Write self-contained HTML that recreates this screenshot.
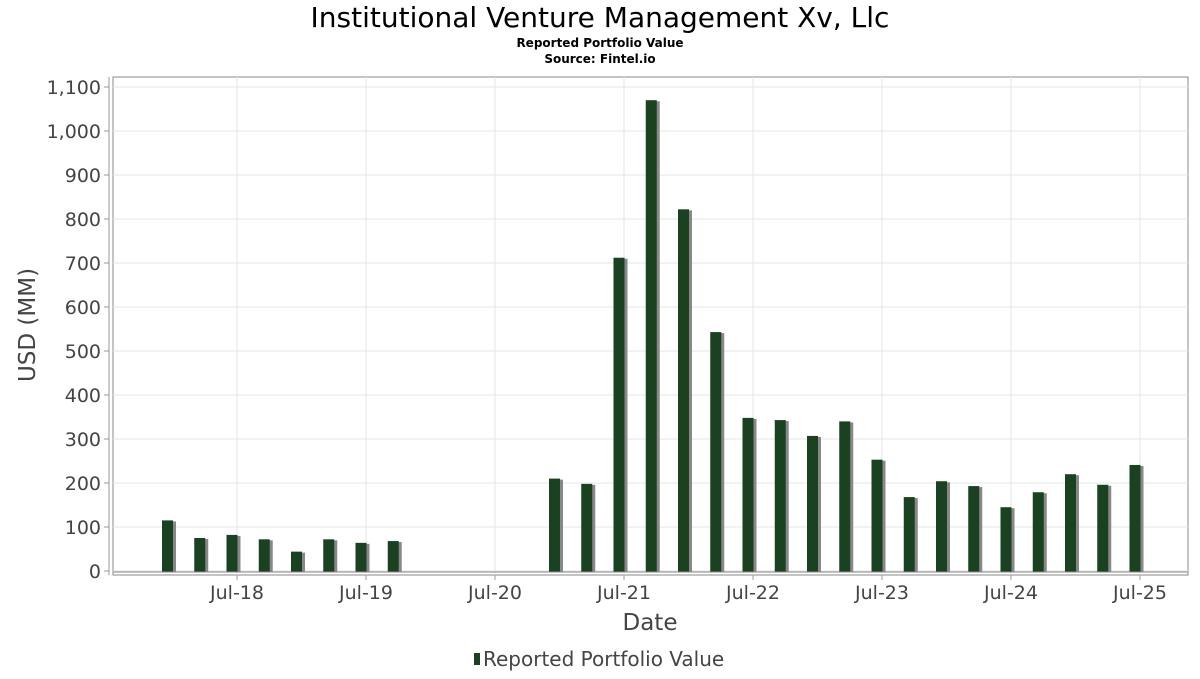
<!DOCTYPE html>
<html><head><meta charset="utf-8"><style>
body{margin:0;background:#fff;font-family:"DejaVu Sans","Liberation Sans",sans-serif;}
</style></head><body>
<svg width="1200" height="675" xmlns="http://www.w3.org/2000/svg" style="font-family:'DejaVu Sans','Liberation Sans',sans-serif">
<text x="600" y="27" text-anchor="middle" font-size="28" fill="#000">Institutional Venture Management Xv, Llc</text>
<text x="600" y="47" text-anchor="middle" font-size="12" font-weight="bold">Reported Portfolio Value</text>
<text x="600" y="63" text-anchor="middle" font-size="12" font-weight="bold">Source: Fintel.io</text>
<rect x="113" y="77" width="1075" height="498" fill="none" stroke="#888"/>
<g id="grid"></g>
<g id="bars"></g>
<g id="axes"></g>
<text x="35" y="325" transform="rotate(-90 35 325)" text-anchor="middle" font-size="23" fill="#444">USD (MM)</text>
<text x="650" y="630" text-anchor="middle" font-size="23" fill="#444">Date</text>
<g>
<rect x="474" y="653" width="6" height="12" fill="#1a4220"/>
<text x="483" y="666" font-size="20" fill="#444">Reported Portfolio Value</text>
</g>
</svg>
<script>
const quarterIndex=[0,1,2,3,4,5,6,7,12,13,14,15,16,17,18,19,20,21,22,23,24,25,26,27,28,29,30];
const values=[115,75,82,72,44,72,64,68,210,198,712,1070,822,543,348,343,307,340,253,168,204,193,145,179,220,196,241];
const yTicks=[0,100,200,300,400,500,600,700,800,900,1000,1100];
const xTickLabels=["Jul-18","Jul-19","Jul-20","Jul-21","Jul-22","Jul-23","Jul-24","Jul-25"];
const xTickQuarter=[2.14,6.14,10.14,14.14,18.14,22.14,26.14,30.14];
const NS="http://www.w3.org/2000/svg";
function y(v){return 571-v*0.44;}
function x(q){return 168+q*32.25;}
function mk(tag,attrs,parent,text){const e=document.createElementNS(NS,tag);for(const k in attrs)e.setAttribute(k,attrs[k]);if(text!==undefined)e.textContent=text;parent.appendChild(e);return e;}
const grid=document.getElementById('grid'),bars=document.getElementById('bars'),axes=document.getElementById('axes');
yTicks.forEach(t=>{
 const l=mk('line',{x1:113,x2:1188,y1:y(t),y2:y(t),stroke:'#e4e4e4'},grid);
 
 
 const tk=mk('line',{x1:104,x2:109,y1:y(t),y2:y(t),stroke:'#999'},axes);
 
 
 const tx=mk('text',{x:101,y:y(t)+7,'text-anchor':'end','font-size':19,fill:'#444'},axes,t.toLocaleString('en-US'));
 
 
});
xTickQuarter.forEach((q,i)=>{
 const l=mk('line',{x1:x(q),x2:x(q),y1:77,y2:575,stroke:'#e4e4e4'},grid);
 
 
 const tk=mk('line',{x1:x(q),x2:x(q),y1:575,y2:580,stroke:'#999'},axes);
 
 
 const tx=mk('text',{x:x(q),y:599,'text-anchor':'middle','font-size':19,fill:'#444'},axes,xTickLabels[i]);
 
 
});
const yl=mk('line',{x1:109,x2:109,y1:77,y2:575,stroke:'#999'},axes);


const bl=mk('line',{x1:113,x2:1188,y1:572,y2:572,stroke:'#888'},axes);


values.forEach((v,i)=>{
 const cx=x(quarterIndex[i]);
 const s=mk('rect',{x:cx-6+3,y:y(v)+1,width:11,height:572-y(v)-1,fill:'#888'},bars);
 
 
 const b=mk('rect',{x:cx-6,y:y(v),width:11,height:572-y(v),fill:'#1a4220'},bars);
 
 
});
</script>
</body></html>
